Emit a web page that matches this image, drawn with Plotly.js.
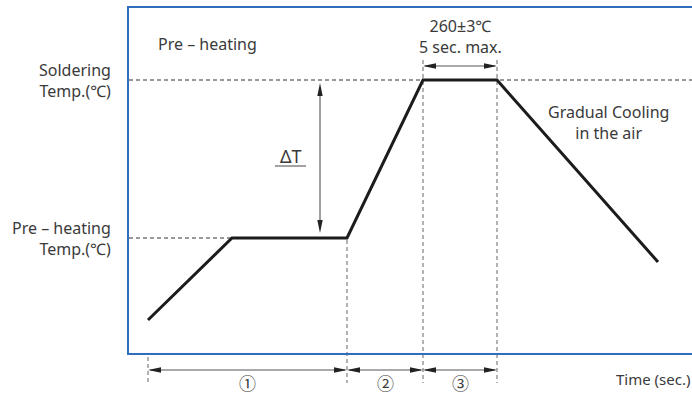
<!DOCTYPE html>
<html><head><meta charset="utf-8">
<script src="https://cdn.plot.ly/plotly-3.0.1.min.js"></script>
<style>html,body{margin:0;padding:0;background:#fff;}#chart{width:692px;height:396px;}</style>
</head><body><div id="chart"></div>
<script>
// Reflow profile (schematic units: time along x, temperature along y)
const timePoints = [19, 103, 218, 294, 368, 529];
const tempPoints = [33, 115, 115, 273, 273, 91];
const stageLabels = ['①', '②', '③'];
const solderLabel = 'Soldering<br>Temp.(℃)';
const preheatLabel = 'Pre – heating<br>Temp.(℃)';
const peakLabel = '260±3℃<br>5 sec. max.';
const coolLabel = 'Gradual Cooling<br>in the air';
const preheatTitle = 'Pre – heating';
const deltaLabel = 'ΔT';
const timeLabel = 'Time (sec.)';

const W = 692, H = 396, ML = 129, MT = 8, MB = 43;
const PW = W - ML, PH = H - MT - MB;
const xd = px => px - ML;                 // pixel -> x data
const xp = px => (px - ML) / PW;          // pixel -> paper x
const yp = py => (H - MB - py) / PH;      // pixel -> paper y

const FONT = 'Noto Sans, Noto Sans CJK KR, sans-serif';
const CJK = 'Noto Sans CJK KR, Noto Sans, sans-serif';
const TXT = '#3a3a3a';
const BLUE = '#2f6dbd';

const shapes = [];
const annotations = [];

// horizontal dashed reference lines
shapes.push({type:'line', layer:'below', xref:'paper', yref:'y', x0:0, x1:1, y0:tempPoints[3], y1:tempPoints[3],
  line:{color:'#333', width:1, dash:'4px,3px'}});
shapes.push({type:'line', layer:'below', xref:'x', yref:'y', x0:0, x1:timePoints[1], y0:tempPoints[1], y1:tempPoints[1],
  line:{color:'#333', width:1, dash:'4px,3px'}});

// vertical dashed phase boundaries
const vTop = [357, 240, 60, 60];
[timePoints[0], timePoints[2], timePoints[3], timePoints[4]].forEach((t, i) => {
  shapes.push({type:'line', layer:'below', xref:'x', yref:'paper', x0:t, x1:t, y0:yp(vTop[i]), y1:yp(383),
    line:{color:'#666', width:1, dash:'4px,3px'}});
});

function hArrowHead(xt, ypx, dir) {
  const L = 13, hw = 2.7;
  const y0 = yp(ypx), dy = hw / PH;
  shapes.push({type:'path', xref:'x', yref:'paper', fillcolor:'#222', line:{width:0},
    path:`M ${xt},${y0} L ${xt - dir*L},${y0 + dy} L ${xt - dir*L},${y0 - dy} Z`});
}
function dimLine(xa, xb, ypx) {
  shapes.push({type:'line', xref:'x', yref:'paper', x0:xa + 2, x1:xb - 2, y0:yp(ypx), y1:yp(ypx),
    line:{color:'#555', width:1}});
  hArrowHead(xa, ypx, -1);
  hArrowHead(xb, ypx, 1);
}
// bottom stage dimensions
const bounds = [timePoints[0], timePoints[2], timePoints[3], timePoints[4]];
for (let i = 0; i < 3; i++) {
  dimLine(bounds[i], bounds[i+1], 370);
  annotations.push({xref:'x', yref:'paper', x:(bounds[i]+bounds[i+1])/2, y:yp(382), text:stageLabels[i],
    showarrow:false, xanchor:'center', yanchor:'middle', borderpad:0,
    font:{family:CJK, size:17, color:TXT}});
}
// peak duration dimension
dimLine(timePoints[3], timePoints[4], 66);

// delta T vertical double arrow
const dX = xd(320);
const dTop = tempPoints[3] - 3, dBot = tempPoints[1] + 5;
shapes.push({type:'line', xref:'x', yref:'y', x0:dX, x1:dX, y0:dBot + 4, y1:dTop - 4, line:{color:'#444', width:1}});
shapes.push({type:'path', xref:'x', yref:'y', fillcolor:'#222', line:{width:0},
  path:`M ${dX},${dTop} L ${dX-2.7},${dTop-13} L ${dX+2.7},${dTop-13} Z`});
shapes.push({type:'path', xref:'x', yref:'y', fillcolor:'#222', line:{width:0},
  path:`M ${dX},${dBot} L ${dX-2.7},${dBot+13} L ${dX+2.7},${dBot+13} Z`});
// delta T label underline
shapes.push({type:'line', xref:'x', yref:'paper', x0:xd(275), x1:xd(306), y0:yp(166), y1:yp(166), line:{color:'#444', width:1}});

// text
annotations.push({xref:'paper', yref:'y', x:xp(113), y:tempPoints[3], text:solderLabel, align:'right',
  showarrow:false, xanchor:'right', yanchor:'middle', font:{family:FONT, size:16, color:TXT}});
annotations.push({xref:'paper', yref:'y', x:xp(113), y:tempPoints[1], text:preheatLabel, align:'right',
  showarrow:false, xanchor:'right', yanchor:'middle', font:{family:FONT, size:16, color:TXT}});
annotations.push({xref:'x', yref:'paper', x:(timePoints[3]+timePoints[4])/2, y:yp(36), text:peakLabel, align:'center',
  showarrow:false, xanchor:'center', yanchor:'middle', font:{family:FONT, size:16, color:TXT}});
annotations.push({xref:'paper', yref:'paper', x:xp(608), y:yp(122), text:coolLabel, align:'center',
  showarrow:false, xanchor:'center', yanchor:'middle', font:{family:FONT, size:16, color:TXT}});
annotations.push({xref:'paper', yref:'paper', x:xp(156), y:yp(44), text:preheatTitle,
  showarrow:false, xanchor:'left', yanchor:'middle', font:{family:FONT, size:16, color:TXT}});
annotations.push({xref:'paper', yref:'paper', x:xp(291), y:yp(156), text:deltaLabel,
  showarrow:false, xanchor:'center', yanchor:'middle', font:{family:FONT, size:18, color:TXT}});
annotations.push({xref:'paper', yref:'paper', x:1, y:yp(379), text:timeLabel,
  showarrow:false, xanchor:'right', yanchor:'middle', font:{family:FONT, size:15, color:TXT}});
// clipped fragment at top-left edge (as in the reference)
annotations.push({xref:'paper', yref:'paper', x:xp(3), y:yp(13), text:'<b>i</b>',
  showarrow:false, xanchor:'right', yanchor:'middle', font:{family:FONT, size:19, color:'#111'}});

const trace = {
  type:'scatter', mode:'lines', x:timePoints, y:tempPoints,
  line:{color:'#1c1c1c', width:3}, hoverinfo:'skip', cliponaxis:false
};

const layout = {
  width:W, height:H, margin:{l:ML, r:0, t:MT, b:MB, pad:0},
  paper_bgcolor:'#fff', plot_bgcolor:'#fff', showlegend:false,
  xaxis:{range:[0, PW], showgrid:false, zeroline:false, showticklabels:false, ticks:'',
    showline:true, mirror:true, linecolor:BLUE, linewidth:2, fixedrange:true},
  yaxis:{range:[0, PH], showgrid:false, zeroline:false, showticklabels:false, ticks:'',
    showline:true, mirror:false, linecolor:BLUE, linewidth:2, fixedrange:true},
  shapes, annotations
};
Plotly.newPlot('chart', [trace], layout, {displayModeBar:false, staticPlot:true});
</script></body></html>
